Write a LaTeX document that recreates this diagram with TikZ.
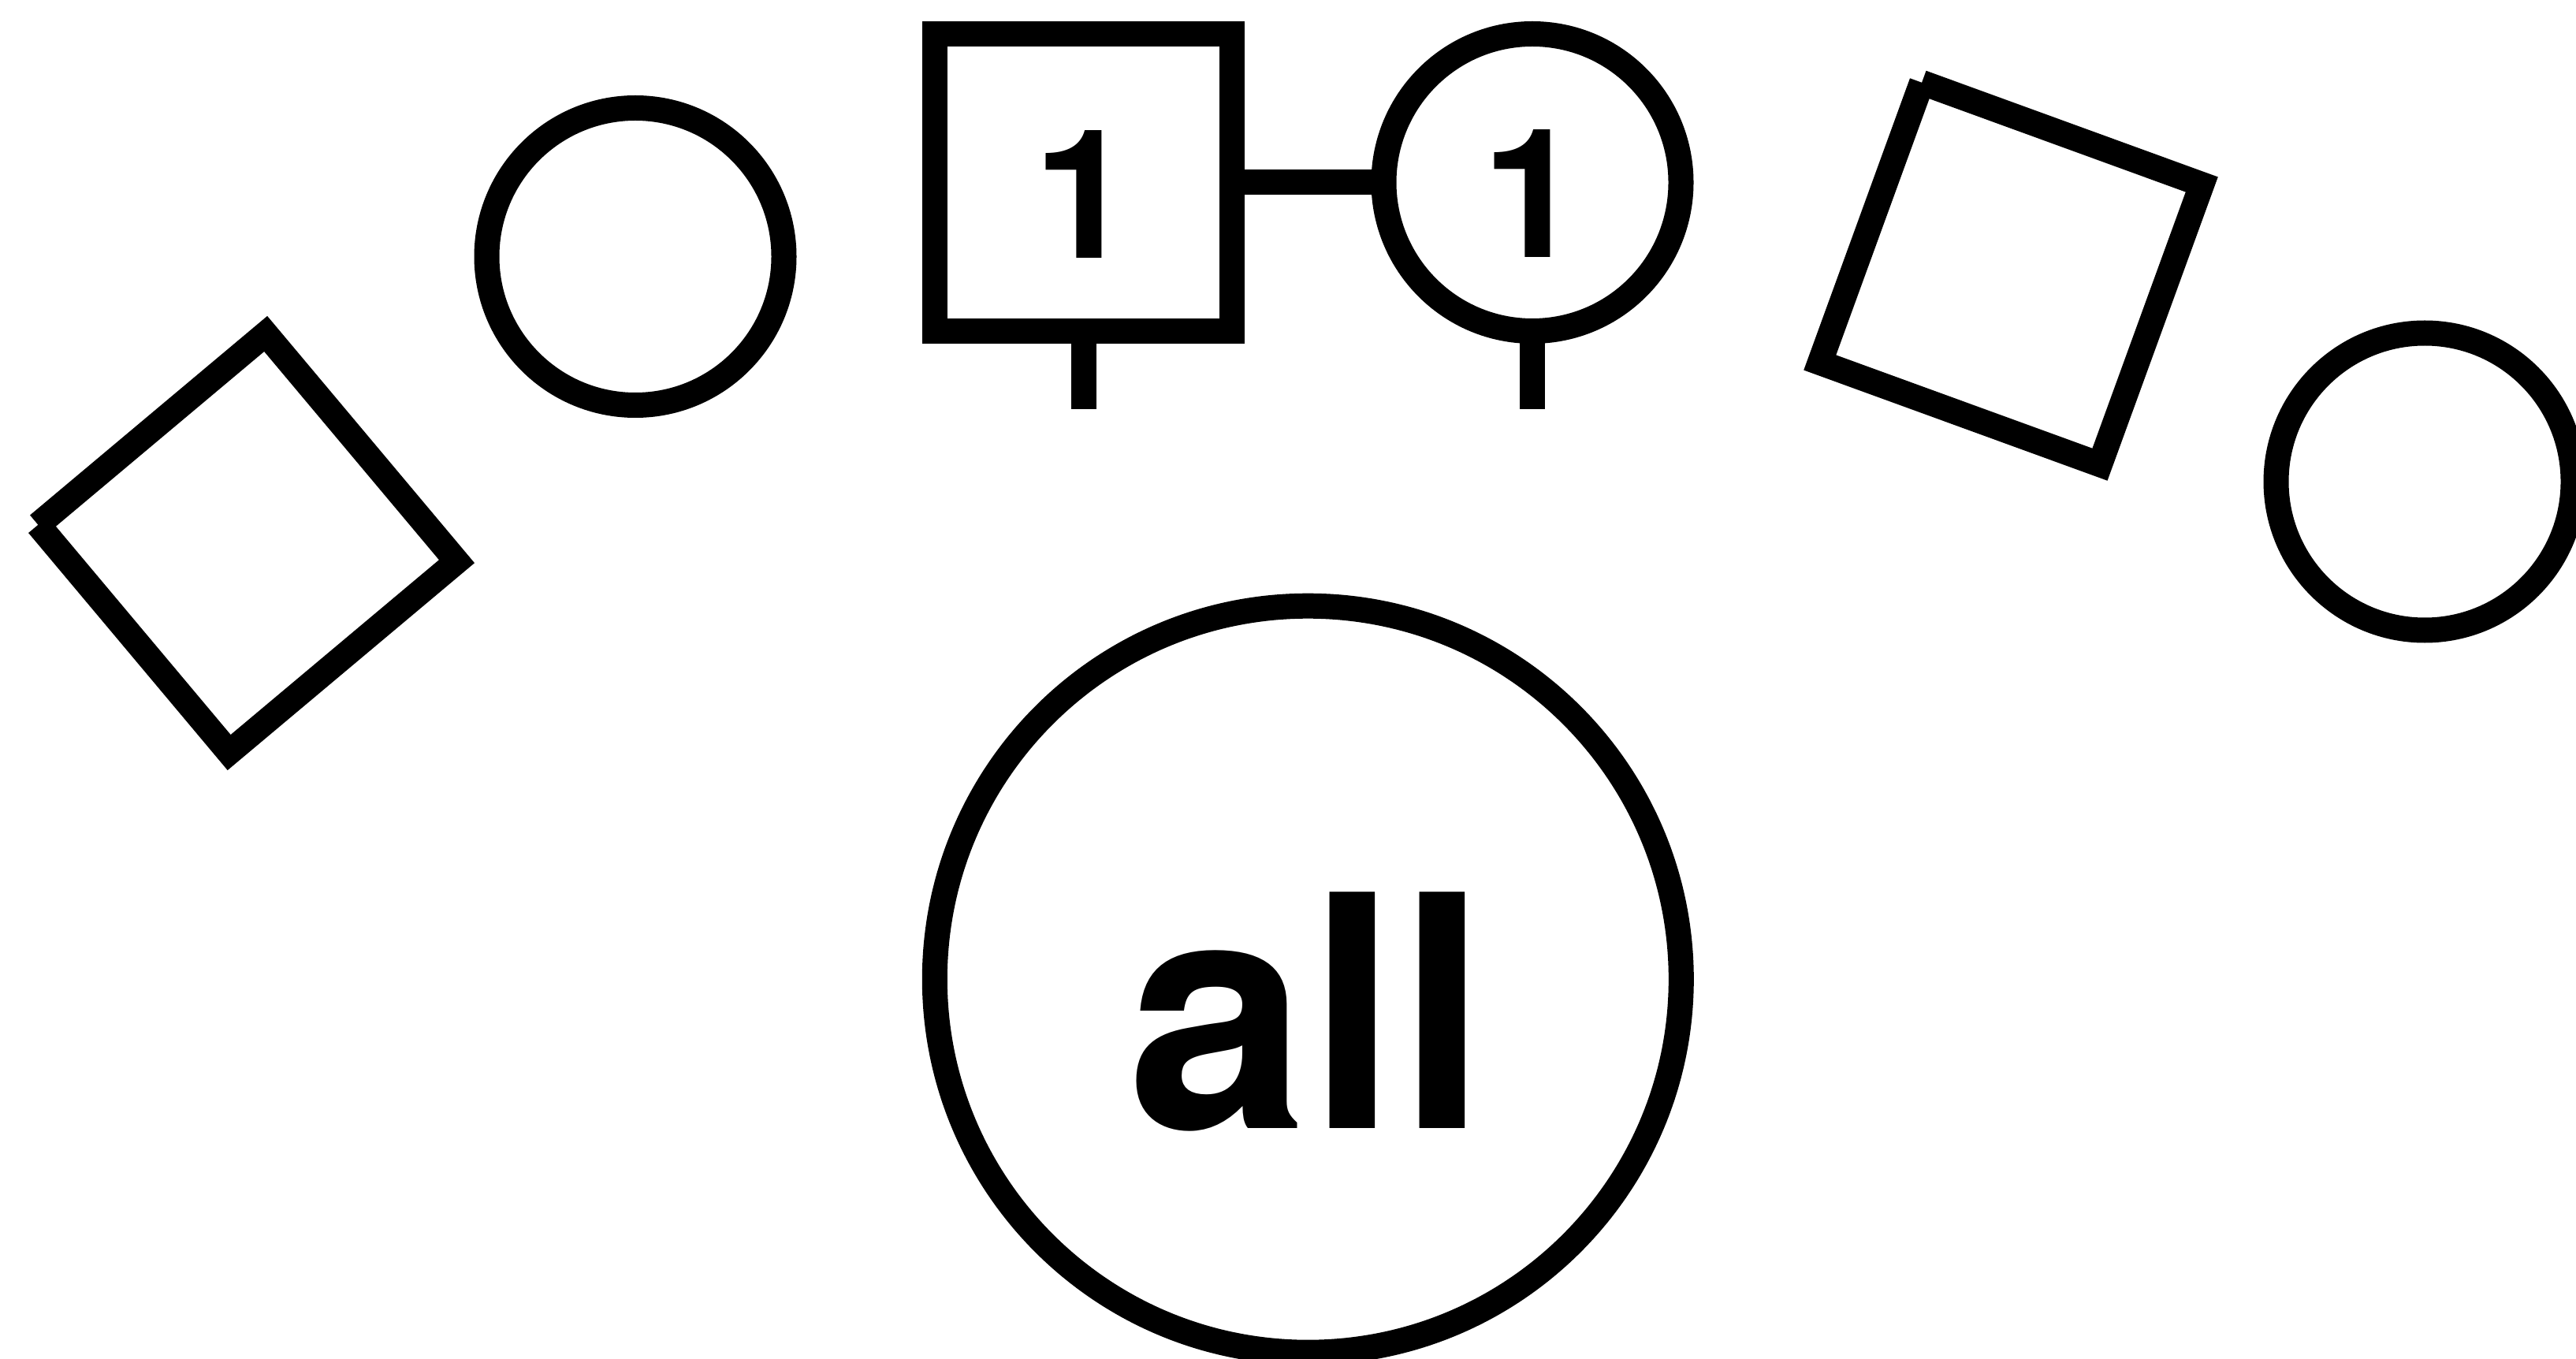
\documentclass[tikz,border=0pt]{standalone}
\usepackage{fontspec}
\setmainfont{TeX Gyre Heros}
\usetikzlibrary{positioning}

\begin{document}
\begin{tikzpicture}[
    heavy/.style={line width=3.2mm},
    outline/.style={draw, heavy, minimum size=3.77cm, inner sep=0pt, outer sep=0pt},
    sqnode/.style={outline, rectangle},
    rndnode/.style={outline, circle},
    num/.style={font=\fontsize{65}{78}\selectfont\bfseries, inner sep=0pt, anchor=base},
    bignum/.style={font=\fontsize{117}{140}\selectfont\bfseries, inner sep=0pt, anchor=base}
]
\useasboundingbox (0,0) rectangle (32.68,-17.24);

% top pair, joined
\node[sqnode] (pair sq) at (13.745,-2.315) {};
\node[rndnode, right=1.925cm of pair sq] (pair rnd) {};
\node[num, yshift=-9.65mm] (sq one) at (pair sq) {1};
\node[num, yshift=-9.5mm] (rnd one) at (pair rnd) {1};
\draw[heavy] (pair sq) -- (pair rnd);
\coordinate[below=0.99cm of pair sq] (sq foot);
\coordinate[below=0.99cm of pair rnd] (rnd foot);
\draw[heavy] (pair sq) -- (sq foot);
\draw[heavy] (pair rnd) -- (rnd foot);

% loose circles
\node[rndnode] (lone left) at (8.06,-3.255) {};
\node[rndnode] (lone right) at (30.76,-6.11) {};
\node[rndnode, minimum size=9.47cm] (all rnd) at (16.593,-12.422) {};
\node[bignum, yshift=-18.9mm] (all txt) at (all rnd) {all};

% tilted squares, left open at one corner
\draw[heavy, shift={(3.139,-6.89)}, rotate=40]
    (-1.885,1.885) -- (1.885,1.885) -- (1.885,-1.885) -- (-1.885,-1.885) -- (-1.885,1.885);
\draw[heavy, shift={(25.51,-3.47)}, rotate=-20]
    (-1.89,1.89) -- (1.89,1.89) -- (1.89,-1.89) -- (-1.89,-1.89) -- (-1.89,1.89);
\end{tikzpicture}
\end{document}
